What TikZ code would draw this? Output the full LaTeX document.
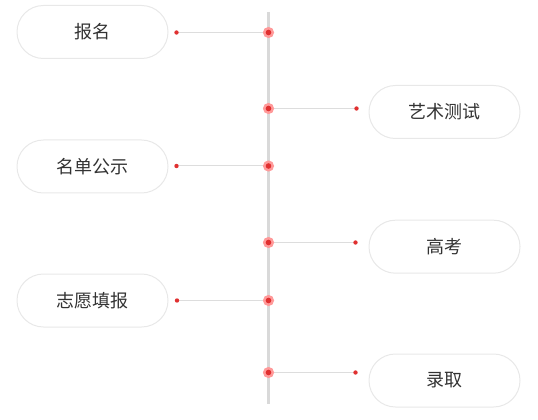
\documentclass[tikz,border=0pt]{standalone}
\usepackage{fontspec}
\setmainfont{Noto Sans CJK SC}
\definecolor{boxline}{HTML}{E8E8E8}
\definecolor{txt}{HTML}{333333}
\definecolor{axis}{HTML}{D9D9D9}
\definecolor{conn}{HTML}{DDDDDD}
\definecolor{halo}{HTML}{FF9A9A}
\definecolor{dotred}{HTML}{E03030}
\tikzset{
  stagebox/.style={draw=boxline, line width=0.75pt, fill=white, rounded corners=19.8pt,
    minimum width=113.25pt, minimum height=39.75pt, inner sep=0pt, text=txt,
    font=\fontsize{13.5pt}{16pt}\selectfont},
  connline/.style={draw=conn, line width=0.75pt},
  axisline/.style={draw=axis, line width=1.6pt},
  halodot/.style={fill=halo},
  reddot/.style={fill=dotred}
}
\begin{document}
\begin{tikzpicture}[x=0.75pt,y=-0.75pt]
\useasboundingbox (0,0) rectangle (538,420);
% axis
\coordinate (top) at (268.5,12);
\coordinate (bot) at (268.5,404);
\draw[axisline] (top) -- (bot);
% boxes
\node[stagebox] (b1) at (92.5,32) {报名};
\node[stagebox] (b2) at (444.5,112) {艺术测试};
\node[stagebox] (b3) at (92.5,166.5) {名单公示};
\node[stagebox] (b4) at (444.5,246.7) {高考};
\node[stagebox] (b5) at (92.5,300.5) {志愿填报};
\node[stagebox] (b6) at (444.5,380.5) {录取};
% axis points and end points
\coordinate (a1) at (268.5,32.5);
\coordinate (a2) at (268.5,108.5);
\coordinate (a3) at (268.5,166);
\coordinate (a4) at (268.5,242.5);
\coordinate (a5) at (268.5,300.5);
\coordinate (a6) at (268.5,372.5);
\coordinate (e1) at (176.5,32.5);
\coordinate (e2) at (356.5,108.5);
\coordinate (e3) at (176.5,166);
\coordinate (e4) at (355.5,242.5);
\coordinate (e5) at (177,300.5);
\coordinate (e6) at (355.5,372.5);
\foreach \i in {1,...,6}{
  \draw[connline] (e\i) -- (a\i);
}
\foreach \i in {1,...,6}{
  \fill[halodot] (a\i) circle (5.6);
  \fill[reddot] (a\i) circle (2.8);
  \fill[reddot] (e\i) circle (2.2);
}
\end{tikzpicture}
\end{document}
